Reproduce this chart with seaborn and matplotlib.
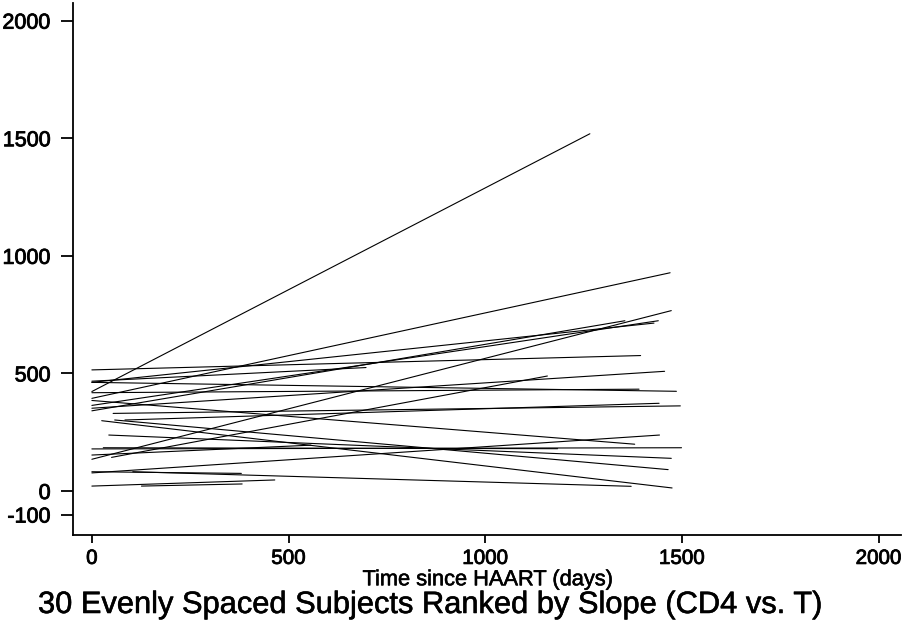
import matplotlib
matplotlib.use("Agg")
import matplotlib.pyplot as plt
import matplotlib.patheffects as pe
import pandas as pd
import seaborn as sns

# First and last observation (days since HAART, CD4 count) for each subject
t_start = [0, 0, 0, 50, 0, 0, 0, 0, 0, 0, 0, 84, 54, 0, 0,
           0, 0, 29, 43, 58, 25, 104, 0, 0, 126, 0]
cd4_start = [423, 394, 135, 143, 341, 364, 462, 515, 467, 462, 418, 302, 330, 352, 385,
             77, 179, 184, 238, 302, 299, 82, 82, 21, 21, 153]
t_end = [1266, 1470, 1473, 1158, 1355, 1440, 1429, 1395, 697, 1486, 1391, 1442, 1496, 1456, 1380,
         1443, 1499, 1184, 1473, 1465, 1475, 1371, 380, 465, 382, 557]
cd4_end = [1519, 928, 767, 489, 724, 724, 714, 576, 525, 424, 433, 373, 362, 509, 199,
           238, 184, 180, 139, 91, 13, 20, 75, 47, 30, 195]

x_ticks = [0, 500, 1000, 1500, 2000]
y_ticks = [-100, 0, 500, 1000, 1500, 2000]

rows = []
for i, (a, b, c, d) in enumerate(zip(t_start, cd4_start, t_end, cd4_end)):
    rows.append({"subject": i, "t": a, "cd4": b})
    rows.append({"subject": i, "t": c, "cd4": d})
df = pd.DataFrame(rows)

sns.set_style("ticks")
plt.rcParams["font.family"] = ["Liberation Sans", "DejaVu Sans"]
plt.rcParams["text.color"] = "black"
plt.rcParams["xtick.color"] = "black"
plt.rcParams["ytick.color"] = "black"
plt.rcParams["axes.edgecolor"] = "black"
plt.rcParams["axes.labelcolor"] = "black"

heavy = [pe.withStroke(linewidth=0.6, foreground="black")]

fig = plt.figure(figsize=(9.03, 6.2), dpi=100)
ax = fig.add_axes([73 / 903, 85 / 620, (901 - 73) / 903, (535 - 3) / 620])

sns.lineplot(data=df, x="t", y="cd4", units="subject", estimator=None,
             color="black", linewidth=0.8, legend=False, ax=ax)

ax.set_xlim(-48, 2057)
ax.set_ylim(-187, 2075)
ax.set_xticks(x_ticks)
ax.set_yticks(y_ticks)
ax.set_xticklabels([str(v) for v in x_ticks], fontsize=14.8)
ax.set_yticklabels([str(v) for v in y_ticks], fontsize=15.5)
for lab in ax.get_xticklabels() + ax.get_yticklabels():
    lab.set_path_effects(heavy)
ax.tick_params(axis="y", length=9, width=1.3, pad=7, colors="black")
ax.tick_params(axis="x", length=6, width=1.3, pad=4, colors="black")
for side in ("top", "right"):
    ax.spines[side].set_visible(False)
for side in ("left", "bottom"):
    ax.spines[side].set_linewidth(1.3)
    ax.spines[side].set_color("black")

ax.set_xlabel("Time since HAART (days)", fontsize=15.7, labelpad=1, color="black")
ax.xaxis.label.set_path_effects([pe.withStroke(linewidth=0.4, foreground="black")])
ax.set_ylabel("")

fig.text(38 / 903, 1 - 613 / 620,
         "30 Evenly Spaced Subjects Ranked by Slope (CD4 vs. T)",
         fontsize=22.2, ha="left", va="baseline", color="black",
         path_effects=[pe.withStroke(linewidth=0.4, foreground="black")])

fig.savefig("out.png", dpi=100)
